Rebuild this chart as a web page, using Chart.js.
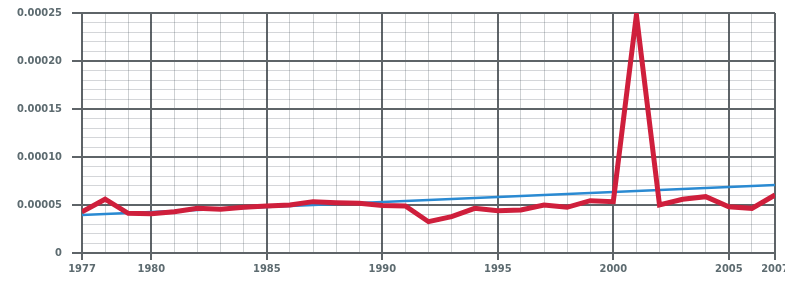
<!DOCTYPE html>
<html>
<head>
<meta charset="utf-8">
<script src="https://cdn.jsdelivr.net/npm/chart.js@4/dist/chart.umd.min.js"></script>
<style>
html,body{margin:0;padding:0;background:#fff;overflow:hidden;}
#wrap{width:785px;height:286px;position:relative;}
</style>
</head>
<body>
<div id="wrap"><canvas id="c"></canvas></div>
<script>
const years = [1977,1978,1979,1980,1981,1982,1983,1984,1985,1986,1987,1988,1989,1990,1991,1992,1993,1994,1995,1996,1997,1998,1999,2000,2001,2002,2003,2004,2005,2006,2007];
const values = [0.000043,0.000056,0.0000413,0.000041,0.000043,0.0000465,0.0000455,0.0000476,0.000049,0.00005,0.0000535,0.0000524,0.0000518,0.0000495,0.000049,0.0000326,0.0000378,0.0000465,0.000044,0.0000448,0.00005,0.0000476,0.0000545,0.0000535,0.000248,0.00005,0.000056,0.0000587,0.0000482,0.0000465,0.0000604];
const trendYears = [1977, 2007];
const trendValues = [0.0000396, 0.0000708];
const xTickLabels = [1977,1980,1985,1990,1995,2000,2005,2007];
const yTickLabels = ['0','0.00005','0.00010','0.00015','0.00020','0.00025'];

const redData = years.map((y,i)=>({x:y,y:values[i]}));
const blueData = trendYears.map((y,i)=>({x:y,y:trendValues[i]}));

const font = {family:"'DejaVu Sans Condensed','DejaVu Sans',sans-serif", size:11, weight:'bold'};

new Chart(document.getElementById('c'), {
  type:'line',
  data:{datasets:[
    {data:redData, borderColor:'#cf1f3c', borderWidth:5, pointRadius:0, tension:0, order:1},
    {data:blueData, borderColor:'#2a8ad2', borderWidth:2.5, pointRadius:0, tension:0, order:2}
  ]},
  options:{
    responsive:true, maintainAspectRatio:false, animation:false,
    layout:{padding:{top:13,bottom:7,left:0,right:10}},
    plugins:{legend:{display:false}, tooltip:{enabled:false}},
    scales:{
      x:{type:'linear', min:1977, max:2007,
        afterBuildTicks:(s)=>{s.ticks = years.map(v=>({value:v}));},
        afterFit:(s)=>{s.height=26; s.paddingLeft=0; s.paddingRight=0;},
        ticks:{autoSkip:false, maxRotation:0, padding:3, color:'#5d6b70', font:font,
          callback:(v)=> xTickLabels.includes(v) ? String(v) : ''},
        grid:{drawTicks:true, tickLength:7,
          color:(c)=>{const v=c.tick&&c.tick.value; return (xTickLabels.includes(v))?'#5e6468':'rgba(60,70,80,0.25)';},
          lineWidth:(c)=>{const v=c.tick&&c.tick.value; return (xTickLabels.includes(v))?2:1;},
          tickColor:(c)=>{const v=c.tick&&c.tick.value; return (xTickLabels.includes(v))?'#5e6468':'rgba(0,0,0,0)';}},
        border:{display:false}
      },
      y:{min:0, max:0.00025,
        afterBuildTicks:(s)=>{const t=[];for(let i=0;i<=25;i++)t.push({value:i*0.00001});s.ticks=t;},
        afterFit:(s)=>{s.width=82; s.paddingTop=0; s.paddingBottom=0;},
        ticks:{autoSkip:false, padding:10, color:'#5d6b70', font:font,
          callback:(v,i)=> (i%5===0) ? yTickLabels[i/5] : ''},
        grid:{tickLength:10,
          color:(c)=> (c.index%5===0)?'#5e6468':'rgba(60,70,80,0.22)',
          lineWidth:(c)=> (c.index%5===0)?2:1,
          tickColor:(c)=> (c.index%5===0)?'#5e6468':'rgba(0,0,0,0)'},
        border:{display:false}
      }
    }
  }
});
</script>
</body>
</html>
